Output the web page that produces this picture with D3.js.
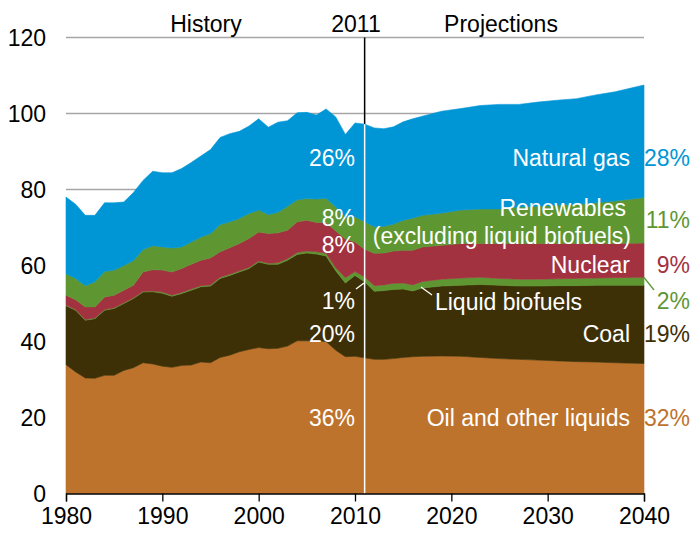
<!DOCTYPE html>
<html>
<head>
<meta charset="utf-8">
<script src="https://cdn.jsdelivr.net/npm/d3@7"></script>
<style>
  body { margin: 0; background: #fff; }
  svg text { font-family: Arial, "Liberation Sans", sans-serif; }
</style>
</head>
<body>
<svg width="691" height="533"></svg>
<script>
// years: history 1980-2011, then projections
const years = [
    1980, 1981, 1982, 1983, 1984, 1985, 1986, 1987, 1988, 1989,
    1990, 1991, 1992, 1993, 1994, 1995, 1996, 1997, 1998, 1999,
    2000, 2001, 2002, 2003, 2004, 2005, 2006, 2007, 2008, 2009,
    2010, 2011,
    2012, 2013, 2014, 2015, 2016, 2017, 2019, 2021, 2023, 2025,
    2027, 2029, 2031, 2033, 2035, 2037, 2040
];

const oil = [
    33.9, 32.0, 30.4, 30.3, 31.1, 31.1, 32.4, 33.1, 34.4, 34.1,
    33.5, 33.2, 33.7, 33.8, 34.6, 34.4, 35.8, 36.4, 37.3, 37.9,
    38.4, 38.1, 38.2, 38.8, 40.2, 40.2, 40.2, 40.0, 37.7, 36.0,
    36.1, 35.7,
    35.3, 35.3, 35.5, 35.8, 36.0, 36.1, 36.2, 36.1, 35.8, 35.5,
    35.3, 35.1, 34.9, 34.7, 34.6, 34.4, 34.2
];
const coal = [
    15.5, 16.2, 15.2, 15.7, 17.1, 17.6, 17.6, 18.2, 18.6, 19.0,
    19.2, 18.7, 18.9, 19.7, 19.8, 20.2, 20.8, 21.0, 21.0, 21.3,
    22.5, 22.2, 22.1, 22.6, 22.7, 23.1, 22.8, 22.5, 20.9, 19.4,
    21.3, 20.0,
    17.9, 18.1, 18.2, 18.0, 17.3, 18.0, 18.4, 18.7, 19.2, 19.3,
    19.3, 19.5, 19.8, 20.0, 20.2, 20.4, 20.6
];
const biofuels = [
    0.2, 0.2, 0.2, 0.2, 0.2, 0.2, 0.2, 0.2, 0.2, 0.2,
    0.3, 0.3, 0.3, 0.3, 0.3, 0.3, 0.3, 0.3, 0.3, 0.3,
    0.3, 0.3, 0.4, 0.4, 0.5, 0.5, 0.6, 0.7, 0.8, 1.4,
    1.0, 1.3,
    1.5, 1.5, 1.6, 1.6, 1.6, 1.7, 1.8, 1.9, 1.9, 1.8,
    1.8, 1.8, 1.8, 1.9, 1.9, 2.0, 2.1
];
const nuclear = [
    2.6, 2.6, 3.3, 2.9, 3.3, 3.3, 3.3, 3.3, 5.1, 5.6,
    5.8, 6.1, 6.3, 6.5, 6.7, 7.1, 6.7, 7.0, 7.2, 7.6,
    7.6, 7.8, 7.9, 7.5, 8.1, 8.1, 7.7, 8.1, 9.7, 10.2,
    7.8, 7.3,
    8.5, 8.4, 8.5, 8.6, 9.1, 9.1, 8.9, 9.1, 8.9, 9.2,
    9.4, 9.4, 9.3, 9.2, 9.1, 9.0, 9.0
];
const renewables = [
    5.6, 5.6, 5.6, 6.6, 6.7, 6.6, 6.5, 6.5, 5.9, 6.3,
    6.1, 6.3, 5.7, 5.9, 6.1, 6.4, 7.2, 6.8, 6.6, 6.6,
    5.8, 5.0, 5.4, 6.3, 5.8, 5.7, 6.2, 6.4, 6.3, 5.7,
    6.6, 7.2,
    7.0, 7.0, 7.1, 7.9, 8.5, 8.3, 8.5, 8.8, 9.1, 9.1,
    9.6, 9.8, 10.1, 10.3, 10.7, 11.2, 12.0
];
const naturalGas = [
    20.2, 19.5, 18.5, 17.5, 18.1, 17.7, 16.7, 17.9, 18.2, 19.6,
    19.5, 19.8, 20.6, 20.9, 21.3, 22.1, 22.9, 23.2, 22.9, 23.0,
    24.0, 23.0, 23.7, 22.5, 22.9, 22.7, 22.1, 23.5, 23.7, 21.8,
    24.7, 25.7,
    26.0, 25.7, 25.6, 25.9, 26.1, 26.1, 26.8, 26.7, 27.2, 27.5,
    27.0, 27.4, 27.6, 27.8, 28.4, 28.7, 29.6
];

const seriesKeys = ["oil", "coal", "biofuels", "nuclear", "renewables", "gas"];
const seriesColors = ["#BE732C", "#3E3006", "#5E9732", "#A33241", "#5E9732", "#0096D6"];

const yTicks = [0, 20, 40, 60, 80, 100, 120];
const xTicks = [1980, 1990, 2000, 2010, 2020, 2030, 2040];
const splitYear = 2011;

// labels at 2011 (history shares)
const historyLabels = [
    {text: "26%", y: 166},
    {text: "8%", y: 226},
    {text: "8%", y: 253},
    {text: "1%", y: 309},
    {text: "20%", y: 341.5},
    {text: "36%", y: 426}
];
// labels at 2040
const nameLabels = [
    {text: "Natural gas", x: 630, y: 166},
    {text: "Renewables", x: 626, y: 216},
    {text: "(excluding liquid biofuels)", x: 631, y: 244},
    {text: "Nuclear", x: 630, y: 272.5},
    {text: "Liquid biofuels", x: 582, y: 310, anchor: "end"},
    {text: "Coal", x: 630, y: 341.5},
    {text: "Oil and other liquids", x: 630, y: 426}
];
const shareLabels = [
    {text: "28%", y: 166, color: "#0096D6"},
    {text: "11%", y: 228, color: "#5E9732"},
    {text: "9%", y: 272.5, color: "#A33241"},
    {text: "2%", y: 308.5, color: "#5E9732"},
    {text: "19%", y: 341.5, color: "#3E3006"},
    {text: "32%", y: 426, color: "#BE732C"}
];

const drawChart = () => {
    const svg = d3.select("svg");
    const x = d3.scaleLinear().domain([1980, 2040]).range([66, 644]);
    const y = d3.scaleLinear().domain([0, 120]).range([493.5, 37.5]);

    const table = years.map((yr, i) => ({
        year: yr,
        oil: oil[i],
        coal: coal[i],
        biofuels: biofuels[i],
        nuclear: nuclear[i],
        renewables: renewables[i],
        gas: naturalGas[i]
    }));

    // gridlines
    svg.append("g")
        .selectAll("line")
        .data(yTicks.filter(d => d > 0))
        .join("line")
        .attr("x1", x(1980)).attr("x2", x(2040))
        .attr("y1", d => y(d)).attr("y2", d => y(d))
        .attr("stroke", "#A6A6A6")
        .attr("stroke-width", 1.5);

    // 2011 divider (black part above the areas)
    svg.append("line")
        .attr("x1", x(splitYear)).attr("x2", x(splitYear))
        .attr("y1", y(120)).attr("y2", y(0))
        .attr("stroke", "black")
        .attr("stroke-width", 1.5);

    const stacked = d3.stack().keys(seriesKeys)(table);
    const area = d3.area()
        .x(d => x(d.data.year))
        .y0(d => y(d[0]))
        .y1(d => y(d[1]));

    svg.append("g")
        .selectAll("path")
        .data(stacked)
        .join("path")
        .attr("d", area)
        .attr("fill", (d, i) => seriesColors[i])
        .attr("stroke", (d, i) => seriesColors[i])
        .attr("stroke-width", 0.6);

    // white divider inside the areas
    const total2011 = d3.sum(seriesKeys, k => table.find(d => d.year === splitYear)[k]);
    svg.append("line")
        .attr("x1", x(splitYear)).attr("x2", x(splitYear))
        .attr("y1", y(total2011)).attr("y2", y(0))
        .attr("stroke", "white")
        .attr("stroke-width", 1.5);

    // x axis
    const xAxis = svg.append("g")
        .attr("transform", `translate(0, ${y(0)})`)
        .call(d3.axisBottom(x).tickValues(xTicks).tickFormat(d3.format("d")).tickSize(8).tickPadding(6));
    xAxis.select(".domain").attr("stroke", "black").attr("stroke-width", 1.3);
    xAxis.selectAll(".tick line").attr("stroke", "black").attr("stroke-width", 1.3);
    xAxis.selectAll("text").attr("font-size", 23).attr("fill", "black");

    // y axis labels only
    svg.append("g")
        .selectAll("text")
        .data(yTicks)
        .join("text")
        .attr("x", 46)
        .attr("y", d => y(d))
        .attr("dy", "0.35em")
        .attr("text-anchor", "end")
        .attr("font-size", 23)
        .text(d => d);

    // header
    const header = [
        {text: "History", x: 206},
        {text: "2011", x: 356},
        {text: "Projections", x: 501}
    ];
    svg.append("g")
        .selectAll("text")
        .data(header)
        .join("text")
        .attr("x", d => d.x)
        .attr("y", 32)
        .attr("text-anchor", "middle")
        .attr("font-size", 23)
        .text(d => d.text);

    // history shares
    svg.append("g")
        .selectAll("text")
        .data(historyLabels)
        .join("text")
        .attr("x", 355)
        .attr("y", d => d.y)
        .attr("text-anchor", "end")
        .attr("font-size", 23)
        .attr("fill", "white")
        .text(d => d.text);

    // fuel names
    svg.append("g")
        .selectAll("text")
        .data(nameLabels)
        .join("text")
        .attr("x", d => d.x)
        .attr("y", d => d.y)
        .attr("text-anchor", "end")
        .attr("font-size", 23)
        .attr("fill", "white")
        .text(d => d.text);

    // 2040 shares
    svg.append("g")
        .selectAll("text")
        .data(shareLabels)
        .join("text")
        .attr("x", 690)
        .attr("y", d => d.y)
        .attr("text-anchor", "end")
        .attr("font-size", 23)
        .attr("fill", d => d.color)
        .text(d => d.text);

    // leader lines
    const leaders = [
        {x1: 356, y1: 289, x2: 364, y2: 283, color: "white"},
        {x1: 421, y1: 287, x2: 432, y2: 295, color: "white"},
        {x1: 644, y1: 277.5, x2: 654, y2: 290, color: "#5E9732"}
    ];
    svg.append("g")
        .selectAll("line")
        .data(leaders)
        .join("line")
        .attr("x1", d => d.x1).attr("y1", d => d.y1)
        .attr("x2", d => d.x2).attr("y2", d => d.y2)
        .attr("stroke", d => d.color)
        .attr("stroke-width", 1.3);
}

drawChart();
</script>
</body>
</html>
